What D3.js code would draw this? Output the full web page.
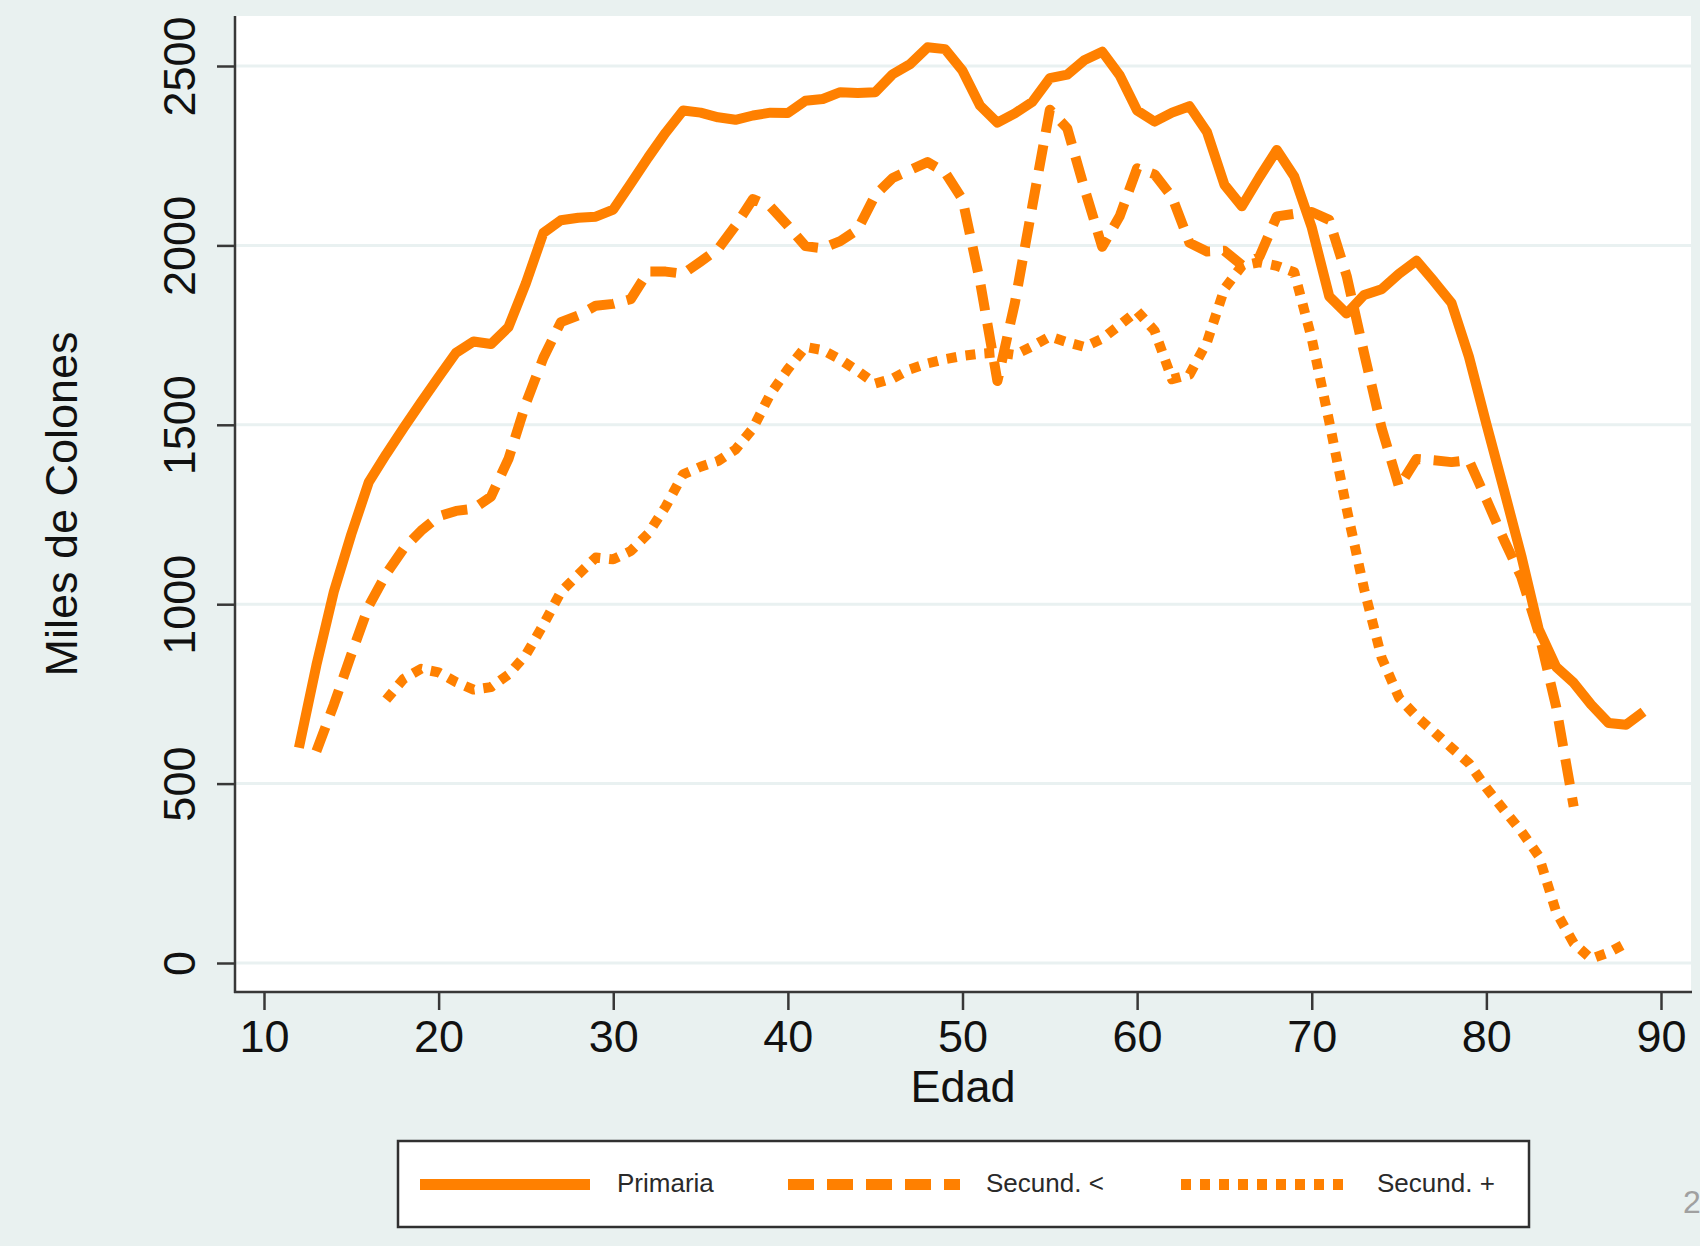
<!DOCTYPE html>
<html>
<head>
<meta charset="utf-8">
<script src="https://cdn.jsdelivr.net/npm/d3@7"></script>
<style>
  html, body { margin: 0; padding: 0; background: #e9f1f0; }
  svg { display: block; }
  text { font-family: "Liberation Sans", Arial, Helvetica, sans-serif; }
</style>
</head>
<body>
<script>
// ---------------- DATA ----------------
const xTicks = [10, 20, 30, 40, 50, 60, 70, 80, 90];
const yTicks = [0, 500, 1000, 1500, 2000, 2500];
const xTitle = "Edad";
const yTitle = "Miles de Colones";
const seriesNames = ["Primaria", "Secund. <", "Secund. +"];

const agesPrimaria = d3.range(12, 90);   // 12..89
const valsPrimaria = [
  600, 830, 1035, 1195, 1340, 1418, 1492, 1563, 1633, 1701,   // 12-21
  1732, 1725, 1772, 1895, 2035, 2070, 2077, 2080, 2100, 2172,  // 22-31
  2245, 2314, 2376, 2370, 2357, 2350, 2362, 2370, 2369, 2403,  // 32-41
  2408, 2427, 2425, 2427, 2477, 2505, 2552, 2547, 2487, 2390,  // 42-51
  2342, 2368, 2400, 2466, 2476, 2517, 2540, 2474, 2376, 2345,  // 52-61
  2370, 2388, 2316, 2169, 2109, 2190, 2266, 2192, 2050, 1858,  // 62-71
  1810, 1862, 1878, 1921, 1957, 1900, 1840, 1690, 1502, 1320,  // 72-81
  1135, 930, 825, 781, 720, 669, 664, 700                       // 82-89
];

const agesSecMenos = d3.range(13, 86);  // 13..85
const valsSecMenos = [
  590, 720, 860, 995, 1085, 1155, 1205, 1245, 1260,            // 13-21
  1266, 1300, 1405, 1560, 1687, 1786, 1805, 1832, 1837, 1850,  // 22-31
  1927, 1927, 1921, 1955, 1990, 2055, 2129, 2108, 2055, 1998,  // 32-41
  1992, 2012, 2044, 2140, 2188, 2210, 2232, 2204, 2128, 1900,  // 42-51
  1622, 1840, 2110, 2378, 2326, 2156, 1996, 2081, 2215, 2198,  // 52-61
  2135, 2007, 1983, 1985, 1945, 1968, 2081, 2088, 2093, 2071,  // 62-71
  1915, 1699, 1491, 1327, 1405, 1401, 1396, 1401, 1292, 1180,  // 72-81
  1076, 920, 713, 436                                           // 82-85
];

const agesSecMas = d3.range(17, 89);    // 17..88
const valsSecMas = [
  734, 792, 820, 810, 783,                                      // 17-21
  762, 769, 804, 859, 943, 1034, 1083, 1130, 1125, 1148,        // 22-31
  1197, 1272, 1362, 1383, 1399, 1431, 1490, 1586, 1655, 1717,   // 32-41
  1708, 1682, 1650, 1615, 1629, 1655, 1671, 1683, 1692, 1698,   // 42-51
  1702, 1695, 1719, 1746, 1730, 1717, 1740, 1778, 1817, 1762,   // 52-61
  1627, 1640, 1730, 1879, 1943, 1953, 1943, 1925, 1740, 1509,   // 62-71
  1266, 1042, 851, 739, 687, 644, 600, 557, 488, 427,           // 72-81
  367, 298, 142, 55, 12, 29, 55                                 // 82-88
];

// ---------------- LAYOUT ----------------
const W = 1700, H = 1246;
const plot = { left: 235, right: 1691, top: 16, bottom: 992 };
const lineColor = "#ff8000";
const styles = [
  { dash: null,    width: 10 },
  { dash: "26 13", width: 10 },
  { dash: "10 9",  width: 10 }
];

const svg = d3.select("body").append("svg").attr("width", W).attr("height", H);
svg.append("rect").attr("width", W).attr("height", H).attr("fill", "#e9f1f0");

const x = d3.scaleLinear().domain([10, 90]).range([264, 1661]);
const y = d3.scaleLinear().domain([0, 2500]).range([963, 66]);

// plot region
svg.append("rect")
  .attr("x", plot.left).attr("y", plot.top)
  .attr("width", plot.right - plot.left).attr("height", plot.bottom - plot.top)
  .attr("fill", "#ffffff");

// gridlines
svg.append("g").selectAll("line").data(yTicks).join("line")
  .attr("x1", plot.left).attr("x2", plot.right)
  .attr("y1", d => y(d)).attr("y2", d => y(d))
  .attr("stroke", "#e9f1f1").attr("stroke-width", 3);

// series
const series = [
  { name: seriesNames[0], data: agesPrimaria.map((a, i) => [a, valsPrimaria[i]]) },
  { name: seriesNames[1], data: agesSecMenos.map((a, i) => [a, valsSecMenos[i]]) },
  { name: seriesNames[2], data: agesSecMas.map((a, i) => [a, valsSecMas[i]]) }
];
const line = d3.line().x(d => x(d[0])).y(d => y(d[1])).curve(d3.curveLinear);

svg.append("g").selectAll("path").data(series).join("path")
  .attr("d", d => line(d.data))
  .attr("fill", "none")
  .attr("stroke", lineColor)
  .attr("stroke-width", (d, i) => styles[i].width)
  .attr("stroke-dasharray", (d, i) => styles[i].dash)
  .attr("stroke-linejoin", "round")
  .attr("stroke-linecap", "butt");

// axes
const axisColor = "#383838";
const yAxis = svg.append("g").attr("transform", `translate(${plot.left},0)`)
  .call(d3.axisLeft(y).tickValues(yTicks).tickSize(18).tickPadding(0).tickFormat(d3.format("d")));
yAxis.select(".domain").remove();
yAxis.selectAll(".tick line").attr("stroke", axisColor).attr("stroke-width", 2.5);
yAxis.selectAll(".tick text")
  .attr("x", null).attr("dy", null)
  .attr("text-anchor", "middle")
  .attr("transform", "translate(-40,0) rotate(-90)")
  .style("font-size", "45px").style("fill", "#111");
svg.append("line")
  .attr("x1", plot.left).attr("x2", plot.left)
  .attr("y1", plot.top).attr("y2", plot.bottom + 1)
  .attr("stroke", axisColor).attr("stroke-width", 2.5);

const xAxis = svg.append("g").attr("transform", `translate(0,${plot.bottom})`)
  .call(d3.axisBottom(x).tickValues(xTicks).tickSize(18).tickPadding(0).tickFormat(d3.format("d")));
xAxis.select(".domain").remove();
xAxis.selectAll(".tick line").attr("stroke", axisColor).attr("stroke-width", 2.5);
xAxis.selectAll(".tick text")
  .attr("y", 60).attr("dy", null)
  .style("font-size", "45px").style("fill", "#111");
svg.append("line")
  .attr("x1", plot.left - 1).attr("x2", plot.right + 1)
  .attr("y1", plot.bottom).attr("y2", plot.bottom)
  .attr("stroke", axisColor).attr("stroke-width", 2.5);

// axis titles
svg.append("text")
  .attr("x", (plot.left + plot.right) / 2).attr("y", 1102)
  .attr("text-anchor", "middle").style("font-size", "45px").style("fill", "#111")
  .text(xTitle);
svg.append("text")
  .attr("transform", `translate(77,${(plot.top + plot.bottom) / 2}) rotate(-90)`)
  .attr("text-anchor", "middle").style("font-size", "45px").style("fill", "#111")
  .text(yTitle);

// legend
const legend = svg.append("g");
legend.append("rect")
  .attr("x", 398).attr("y", 1141).attr("width", 1131).attr("height", 86)
  .attr("fill", "#ffffff").attr("stroke", "#303030").attr("stroke-width", 2.5);
const legItems = [
  { x1: 420, x2: 590, tx: 617 },
  { x1: 788, x2: 960, tx: 986 },
  { x1: 1181, x2: 1348, tx: 1377 }
];
legItems.forEach((it, i) => {
  legend.append("line")
    .attr("x1", it.x1).attr("x2", it.x2).attr("y1", 1184.5).attr("y2", 1184.5)
    .attr("stroke", lineColor).attr("stroke-width", 11)
    .attr("stroke-dasharray", styles[i].dash);
  legend.append("text")
    .attr("x", it.tx).attr("y", 1192)
    .style("font-size", "26px").style("fill", "#2a2a2a")
    .text(seriesNames[i]);
});

// page number fragment at right edge
svg.append("text")
  .attr("x", 1683).attr("y", 1213)
  .style("font-size", "32px").style("fill", "#a0a0a0")
  .text("2");
</script>
</body>
</html>
